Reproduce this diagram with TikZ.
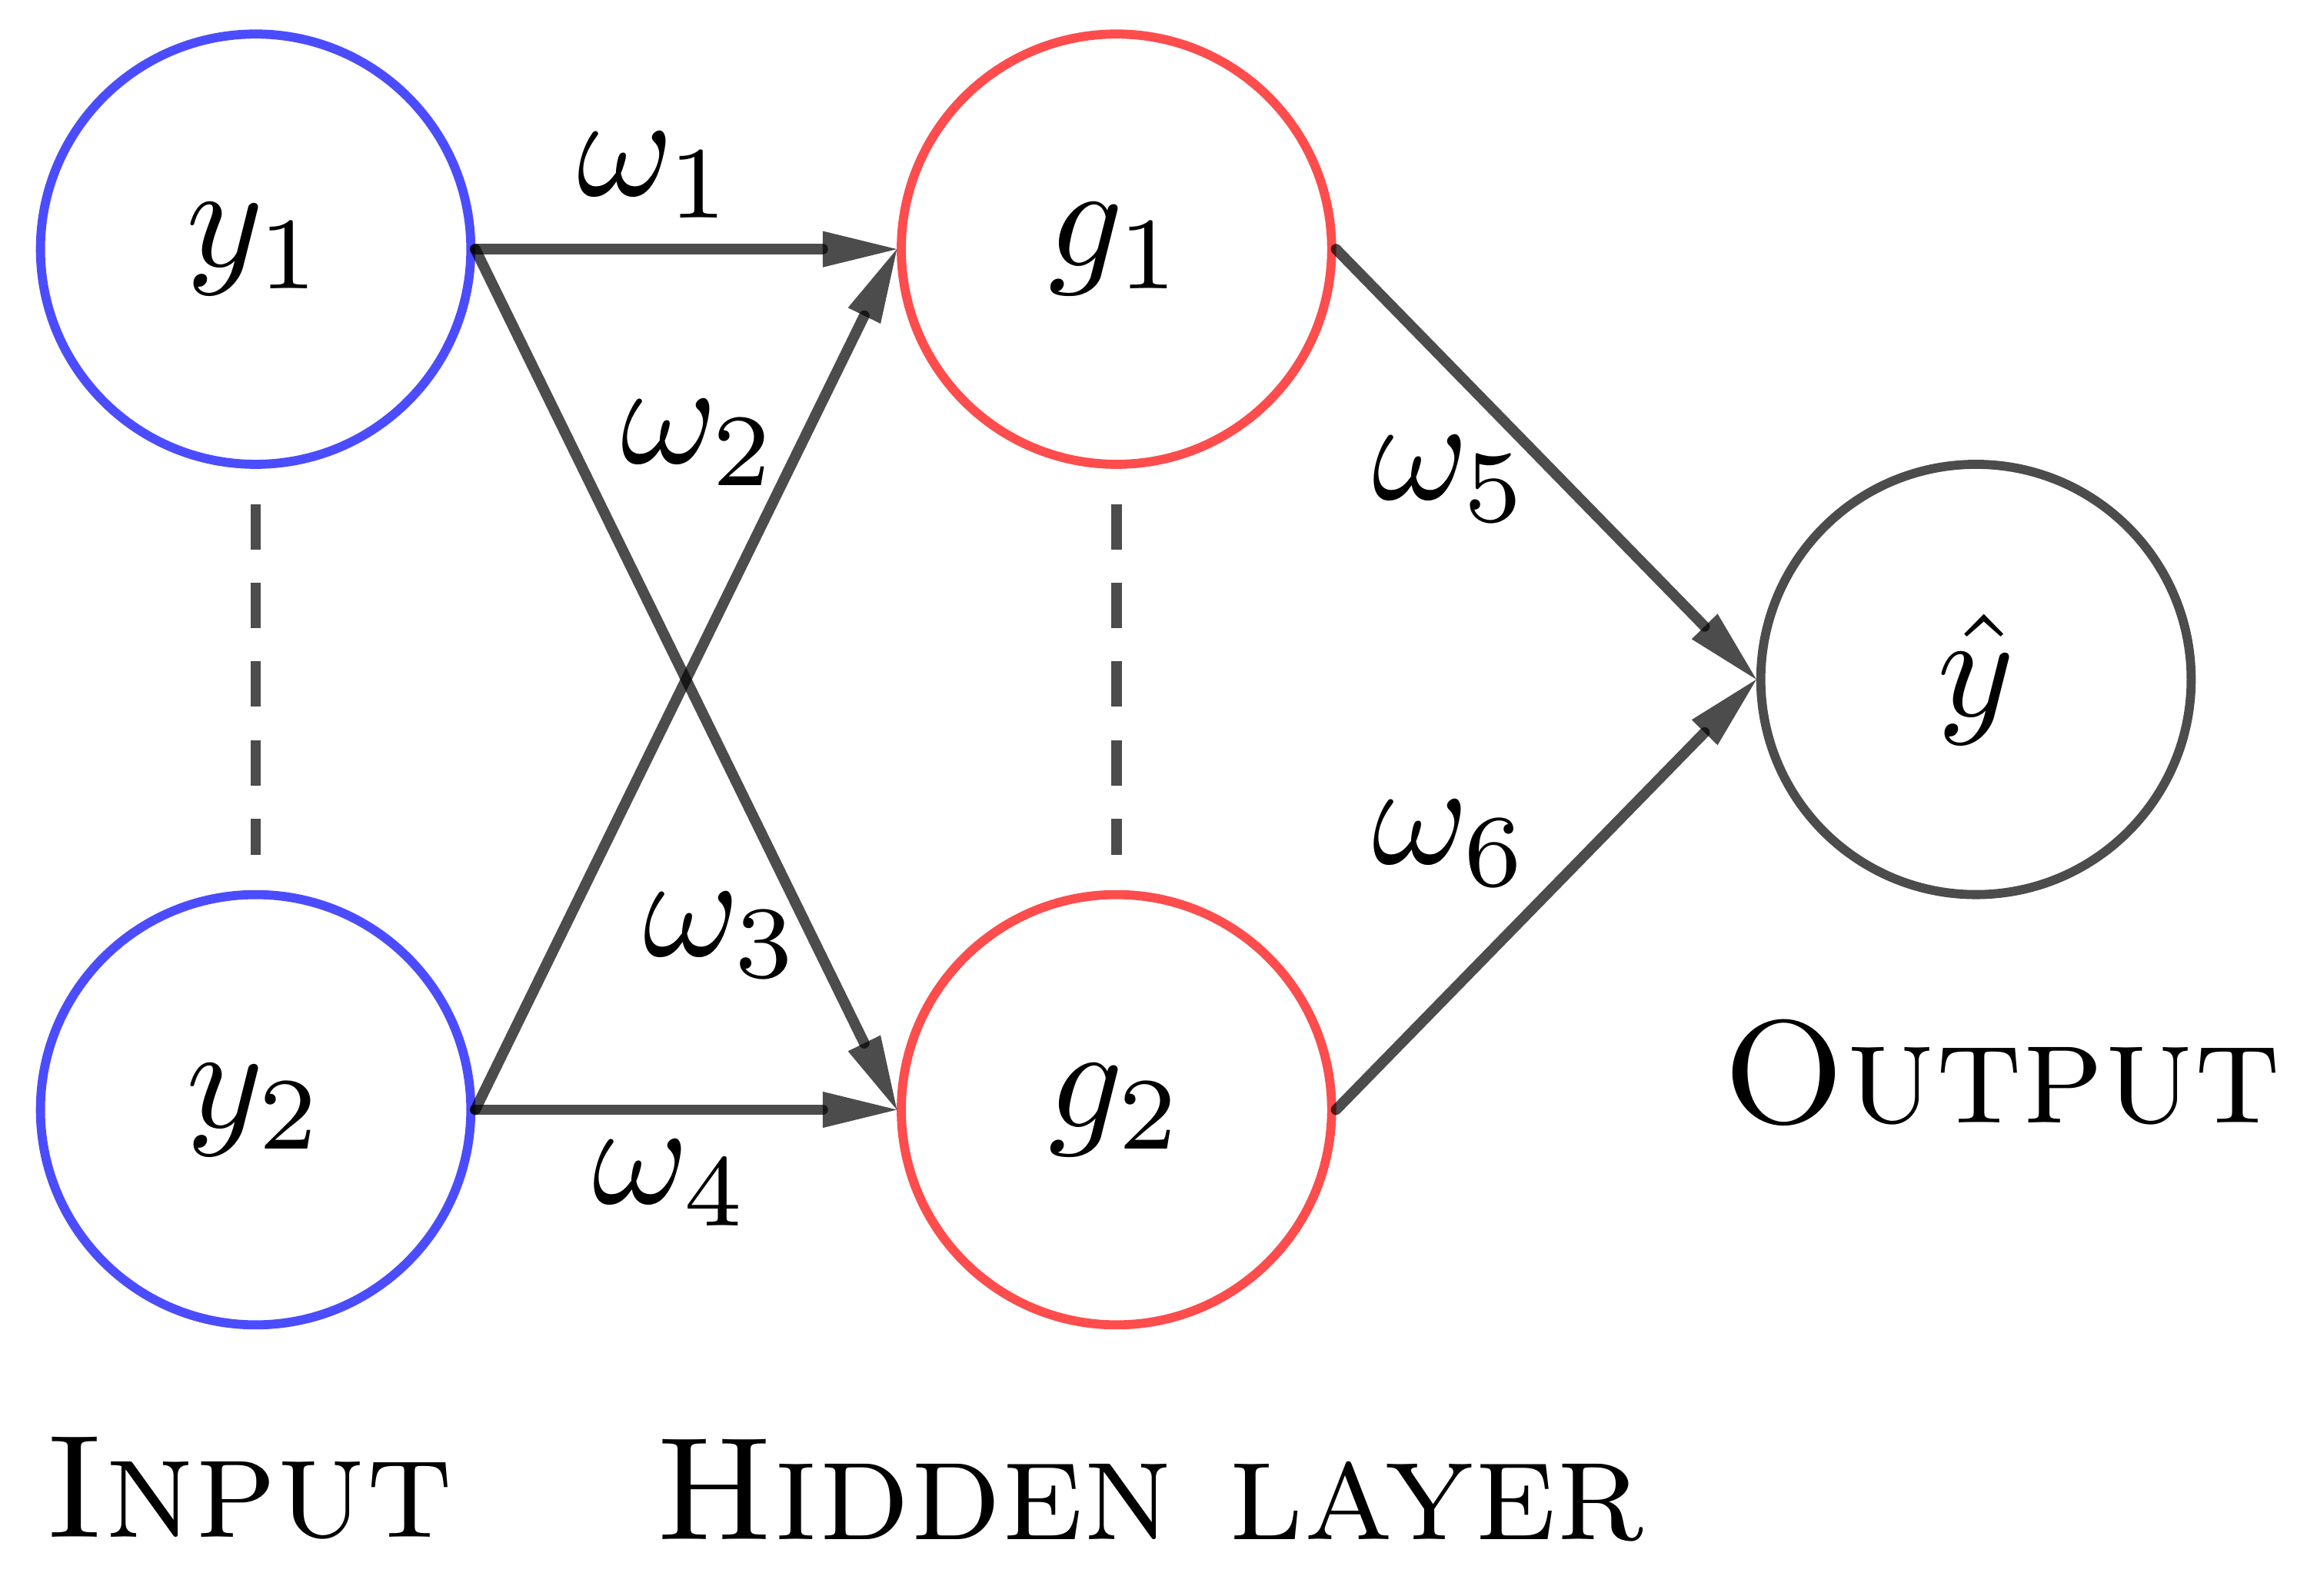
\documentclass[tikz,border=0pt]{standalone}
\usepackage{amsmath}
\usepackage{tikz}
\usetikzlibrary{positioning, arrows.meta}

\tikzset{
  every node/.style={scale=0.97},
  neuron/.style={circle, minimum size=1.0309cm, inner sep=0pt, line width=0.6pt},
  wire/.style={-{Triangle[length=4.9pt,width=2.4pt,line width=0pt]}, line width=0.7pt, line cap=round, draw=black, opacity=0.7},
  skip/.style={line width=0.7pt, draw=black, opacity=0.7, dash pattern=on 3pt off 2.2pt, shorten <=2.35pt, shorten >=2.35pt}
}

\begin{document}
\begin{tikzpicture}
\useasboundingbox (-0.594,-3.130) rectangle (4.766,0.579);

\node[neuron, draw=blue!70] (y1) at (0,0) {$y_1$};
\node[neuron, draw=blue!70] (y2) at (0,-2) {$y_2$};
\node[neuron, draw=red!70] (g1) at (2,0) {$g_1$};
\node[neuron, draw=red!70] (g2) at (2,-2) {$g_2$};
\node[neuron, draw=black!70] (yh) at (3.997,-1) {$\hat{y}$};

\draw[skip] (y1.south)--(y2.north);
\draw[skip] (g1.south)--(g2.north);

\draw[wire] (y1.east)--(g1.west);
\draw[wire] (y1.east)--(g2.west);
\draw[wire] (y2.east)--(g1.west);
\draw[wire] (y2.east)--(g2.west);
\draw[wire] (g1.east)--(yh.west);
\draw[wire] (g2.east)--(yh.west);

\node (w1) at (0.930,0.172) {$\omega_1$};
\node (w2) at (1.032,-0.450) {$\omega_2$};
\node (w3) at (1.084,-1.594) {$\omega_3$};
\node (w4) at (0.966,-2.171) {$\omega_4$};
\node (w5) at (2.777,-0.534) {$\omega_5$};
\node (w6) at (2.777,-1.381) {$\omega_6$};

\node[anchor=base] (inp) at (-0.015,-2.994) {\textsc{Input}};
\node[anchor=base] (hid) at (2.077,-2.998) {\textsc{Hidden layer}};
\node[anchor=base] (outp) at (4.056,-2.030) {\textsc{Output}};
\end{tikzpicture}
\end{document}
